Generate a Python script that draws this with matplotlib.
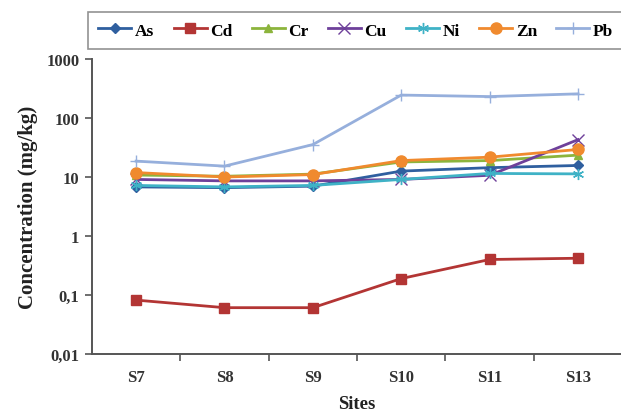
import numpy as np
import matplotlib
matplotlib.use("Agg")
import matplotlib.pyplot as plt
from matplotlib.ticker import FixedLocator, NullLocator

sites = ["S7", "S8", "S9", "S10", "S11", "S13"]
metals = ["As", "Cd", "Cr", "Cu", "Ni", "Zn", "Pb"]

as_vals = [6.8, 6.6, 7.0, 12.6, 14.4, 15.7]
cd_vals = [0.082, 0.061, 0.061, 0.19, 0.40, 0.42]
cr_vals = [10.8, 10.3, 11.2, 18.0, 19.0, 23.5]
cu_vals = [9.1, 8.6, 8.6, 9.1, 10.7, 43.0]
ni_vals = [7.2, 6.8, 7.2, 9.1, 11.5, 11.3]
zn_vals = [11.9, 10.0, 11.0, 19.0, 21.7, 29.3]
pb_vals = [18.6, 15.3, 35.5, 245.0, 231.0, 257.0]

y_ticks = [0.01, 0.1, 1, 10, 100, 1000]
y_tick_labels = ["0,01", "0,1", "1", "10", "100", "1000"]

plt.rcParams["font.family"] = ["Liberation Serif", "DejaVu Serif"]
plt.rcParams["font.weight"] = "bold"

fig = plt.figure(figsize=(6.21, 4.14), dpi=100)
ax = fig.add_axes([0.148, 0.1425, 0.854, 0.7125])

x = np.arange(len(sites))
series = [
    (as_vals, "#2f5f9f", "D", 5, dict()),
    (cd_vals, "#b33534", "s", 7, dict()),
    (cr_vals, "#8cb43c", "^", 6, dict()),
    (cu_vals, "#6e409a", "x", 8, dict(markeredgewidth=1.0)),
    (ni_vals, "#3fb2c6", (6, 2, 0), 8, dict(markeredgewidth=1.0)),
    (zn_vals, "#f08a2e", "o", 8, dict()),
    (pb_vals, "#96afdc", "+", 9, dict(markeredgewidth=1.0)),
]
for (vals, color, marker, ms, extra), name in zip(series, metals):
    ax.plot(x, vals, color=color, marker=marker, markersize=ms, linewidth=2.0,
            label=name, markeredgecolor=color, **extra)

ax.set_yscale("log")
ax.set_ylim(0.01, 1000)
ax.yaxis.set_major_locator(FixedLocator(y_ticks))
ax.yaxis.set_minor_locator(NullLocator())
ax.set_yticklabels(y_tick_labels)

ax.set_xlim(-0.5, len(sites) - 0.5)
ax.set_xticks(x)
ax.set_xticklabels(sites)
ax.tick_params(axis="x", which="major", length=0, pad=11)
ax.set_xticks(np.arange(0.5, len(sites) - 1, 1.0), minor=True)
ax.tick_params(axis="x", which="minor", length=5, width=1.2, color="#555555")
ax.tick_params(axis="y", length=5, width=1.2, color="#555555", pad=4)
ax.tick_params(labelsize=12, labelcolor="#333333")

for s in ["top", "right"]:
    ax.spines[s].set_visible(False)
for s in ["left", "bottom"]:
    ax.spines[s].set_linewidth(1.4)
    ax.spines[s].set_color("#555555")

ax.set_ylabel("Concentration (mg/kg)", fontsize=15, fontweight="bold", color="#222222", labelpad=6)
ax.set_xlabel("Sites", fontsize=13.5, fontweight="bold", color="#222222", labelpad=7)

leg = fig.legend(loc="upper left", bbox_to_anchor=(88 / 621, 1 - 13 / 414), ncol=7,
                 fontsize=12.5, frameon=True, fancybox=False, handlelength=1.9,
                 handletextpad=0.2, columnspacing=1.12, borderpad=0.6, borderaxespad=0)
leg.get_frame().set_edgecolor("#777777")
leg.get_frame().set_linewidth(1.2)

fig.savefig("out.png", dpi=100)
